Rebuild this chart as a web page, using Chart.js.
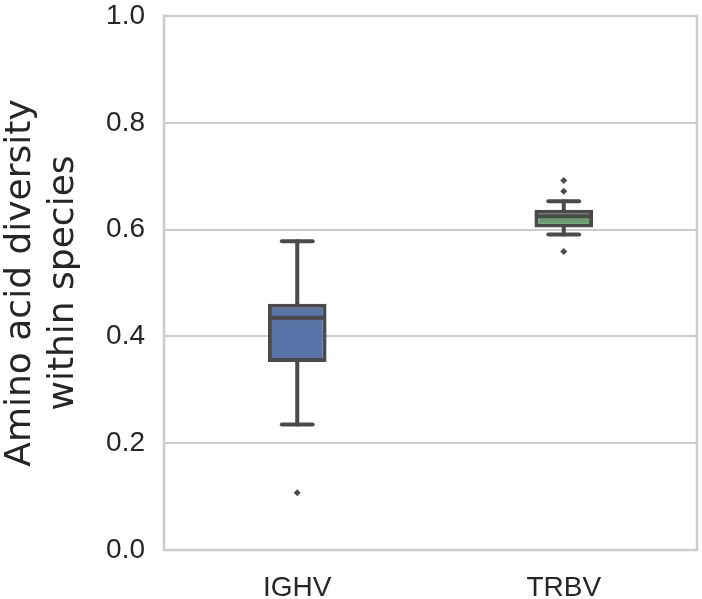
<!DOCTYPE html>
<html>
<head>
<meta charset="utf-8">
<script src="https://cdn.jsdelivr.net/npm/chart.js@4.4.0/dist/chart.umd.min.js"></script>
<style>
  html, body { margin: 0; padding: 0; background: #fff; }
  #wrap { width: 702px; height: 599px; }
</style>
</head>
<body>
<div id="wrap"><canvas id="boxChart"></canvas></div>
<script>
// box plot values
var categories = ['IGHV', 'TRBV'];
var whiskerLow = [0.235, 0.591];
var q1 = [0.352, 0.604];
var medians = [0.435, 0.625];
var q3 = [0.461, 0.637];
var whiskerHigh = [0.578, 0.653];
var outliers = [[0.107], [0.559, 0.672, 0.692]];
var yTicks = [0.0, 0.2, 0.4, 0.6, 0.8, 1.0];

var boxColors = ['#5874a8', '#6b9f70'];
var lineGray = '#4a4a4a';
var capHalf = 0.058;
var medHalf = 0.105;

function segment(points, order) {
    return {
        type: 'line',
        data: points,
        borderColor: lineGray,
        borderWidth: 4,
        borderCapStyle: 'round',
        pointRadius: 0,
        fill: false,
        order: order
    };
}

var datasets = [];

// boxes (q1..q3) as floating bars
datasets.push({
    type: 'bar',
    data: categories.map(function (c, i) { return { x: i, y: [q1[i], q3[i]] }; }),
    backgroundColor: boxColors,
    borderColor: lineGray,
    borderWidth: 4,
    borderSkipped: false,
    barPercentage: 0.22,
    categoryPercentage: 1,
    order: 2
});

categories.forEach(function (c, i) {
    // whiskers
    datasets.push(segment([{ x: i, y: q1[i] }, { x: i, y: whiskerLow[i] }], 3));
    datasets.push(segment([{ x: i, y: q3[i] }, { x: i, y: whiskerHigh[i] }], 3));
    // caps
    datasets.push(segment([{ x: i - capHalf, y: whiskerLow[i] }, { x: i + capHalf, y: whiskerLow[i] }], 3));
    datasets.push(segment([{ x: i - capHalf, y: whiskerHigh[i] }, { x: i + capHalf, y: whiskerHigh[i] }], 3));
    // median
    var med = segment([{ x: i - medHalf, y: medians[i] }, { x: i + medHalf, y: medians[i] }], 0);
    med.borderCapStyle = 'butt';
    datasets.push(med);
});

// outliers
var outlierPoints = [];
categories.forEach(function (c, i) {
    outliers[i].forEach(function (v) { outlierPoints.push({ x: i, y: v }); });
});
datasets.push({
    type: 'scatter',
    data: outlierPoints,
    pointStyle: 'rectRot',
    pointRadius: 3.5,
    backgroundColor: lineGray,
    borderColor: lineGray,
    borderWidth: 0,
    order: 0
});

// light grey frame round the plot area
var framePlugin = {
    id: 'frame',
    beforeDatasetsDraw: function (chart) {
        var a = chart.chartArea, ctx = chart.ctx;
        ctx.save();
        ctx.strokeStyle = '#cccccc';
        ctx.lineWidth = 2.5;
        ctx.strokeRect(a.left, a.top, a.right - a.left, a.bottom - a.top);
        ctx.restore();
    }
};

var ctx = document.getElementById('boxChart').getContext('2d');
var chart = new Chart(ctx, {
    type: 'bar',
    data: { datasets: datasets },
    options: {
        responsive: true,
        maintainAspectRatio: false,
        animation: false,
        layout: { padding: { top: 16, right: 5, left: 0, bottom: 0 } },
        plugins: {
            legend: { display: false },
            tooltip: { enabled: false }
        },
        scales: {
            x: {
                type: 'linear',
                min: -0.5,
                max: 1.5,
                offset: false,
                grid: { display: false, offset: false },
                border: { display: false },
                afterBuildTicks: function (scale) {
                    scale.ticks = categories.map(function (c, i) { return { value: i }; });
                },
                afterFit: function (scale) {
                    scale.height = 49;
                    scale.paddingLeft = 0;
                    scale.paddingRight = 0;
                },
                ticks: {
                    padding: 13,
                    color: '#262626',
                    font: { family: 'Liberation Sans', size: 28 },
                    callback: function (v) { return categories[Math.round(v)]; }
                }
            },
            y: {
                min: 0,
                max: 1,
                grid: { color: '#cccccc', lineWidth: 2, drawTicks: false },
                border: { display: false },
                afterBuildTicks: function (scale) {
                    scale.ticks = yTicks.map(function (v) { return { value: v }; });
                },
                afterFit: function (scale) {
                    scale.width = 164;
                    scale.paddingTop = 0;
                    scale.paddingBottom = 0;
                },
                ticks: {
                    padding: 19,
                    color: '#262626',
                    font: { family: 'Liberation Sans', size: 28 },
                    callback: function (v) { return v.toFixed(1); }
                },
                title: {
                    display: true,
                    text: ['Amino acid diversity', 'within species'],
                    color: '#262626',
                    font: { family: 'DejaVu Sans', size: 36, lineHeight: 1.17 },
                    padding: { top: 0, bottom: 0 }
                }
            }
        }
    },
    plugins: [framePlugin]
});
</script>
</body>
</html>
